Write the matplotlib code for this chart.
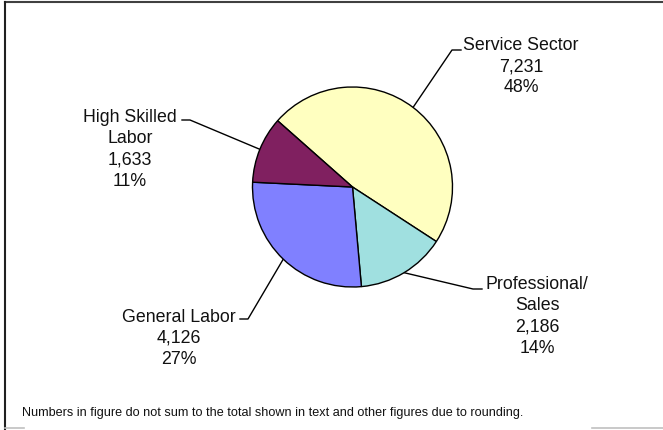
import matplotlib.pyplot as plt
import numpy as np

sectors = ["Service Sector", "Professional/\nSales", "General Labor", "High Skilled\nLabor"]
counts = [7231, 2186, 4126, 1633]
shares = [48, 14, 27, 11]
colors = ["#FFFFC0", "#A0E0E0", "#8080FF", "#802060"]

W, H = 663, 431
plt.rcParams['font.family'] = ['Liberation Sans', 'DejaVu Sans']

fig = plt.figure(figsize=(W / 100, H / 100), dpi=100)

# overlay axes in pixel units (origin top-left) for frame, labels and leaders
over = fig.add_axes([0, 0, 1, 1])
over.set_xlim(0, W)
over.set_ylim(H, 0)
over.axis("off")

# pie axes: center (352.5, 188), radius 100 px
cx, cy, r = 352.5, 188, 100
ax = fig.add_axes([(cx - r) / W, (H - cy - r) / H, 2 * r / W, 2 * r / H])
wedges, _ = ax.pie(counts, colors=colors, startangle=138.5, counterclock=False,
                   wedgeprops=dict(edgecolor="black", linewidth=1.0))
ax.set_xlim(-1, 1)
ax.set_ylim(-1, 1)
ax.set_aspect("equal")
for w in wedges:
    w.set_clip_on(False)

# label centers and leader elbows (pixels)
label_pos = [(521, 66.5), (537, 316.5), (179, 338.5), (130, 149.5)]
elbows = [[(452, 51), (461, 51)],
          [(473, 290), (482, 290)],
          [(248, 320), (240, 320)],
          [(190, 121), (182, 121)]]

for w, name, n, pct, (lx, ly), elb in zip(wedges, sectors, counts, shares, label_pos, elbows):
    mid = np.deg2rad((w.theta1 + w.theta2) / 2)
    ex = cx + r * np.cos(mid)
    ey = cy - r * np.sin(mid)
    xs = [ex] + [p[0] for p in elb]
    ys = [ey] + [p[1] for p in elb]
    over.plot(xs, ys, color="black", lw=1.0)
    over.text(lx, ly, "%s\n%s\n%d%%" % (name, format(n, ","), pct),
              ha="center", va="center", fontsize=12.8, linespacing=1.32,
              color="#111111")

# frame
over.plot([5, W], [3, 3], color="#404040", lw=1.5)
over.plot([5, 5], [3, H], color="#202020", lw=1.5)
over.plot([5, 24], [429, 429], color="#c0c0c0", lw=1.2)
over.plot([592, W], [429, 429], color="#c0c0c0", lw=1.2)

over.text(22, 413, "Numbers in figure do not sum to the total shown in text and other figures due to rounding.",
          ha="left", va="center", fontsize=9.1, color="#111111",
          family=["Liberation Sans Narrow", "Liberation Sans"])

fig.savefig("out.png", dpi=100)
